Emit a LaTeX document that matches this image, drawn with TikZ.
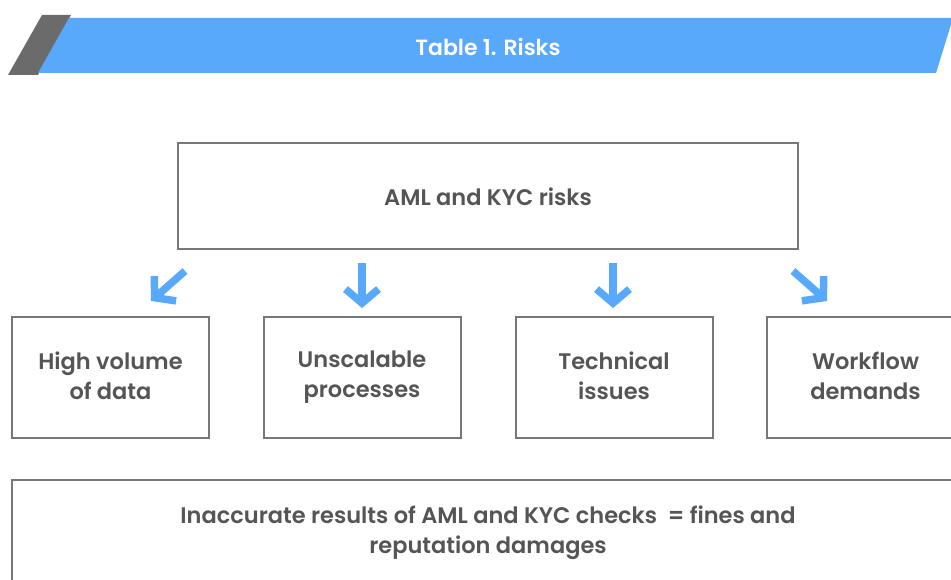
\documentclass[tikz,border=0pt]{standalone}
\usepackage{fontspec}
\setmainfont{Poppins}[BoldFont={Poppins SemiBold}]
\usetikzlibrary{positioning,arrows.meta}
\definecolor{riskblue}{HTML}{58A9FB}
\definecolor{bargray}{HTML}{6B6B6B}
\definecolor{linegray}{HTML}{777777}
\definecolor{txtgray}{HTML}{555555}
\newcommand{\boxstrut}{\rule[-4pt]{0pt}{28pt}}

\begin{document}
\begin{tikzpicture}[x=1pt,y=-1pt,
        boxsty/.style={
            draw=linegray, line width=2pt, rectangle,
            minimum height=121pt,
            minimum width=197pt,
            align=center, text=txtgray,
            font=\fontsize{22.5}{30}\selectfont\bfseries,
            execute at begin node=\boxstrut,
            execute at end node=\boxstrut,
        },
        topsty/.style={boxsty, minimum width=620pt, minimum height=106pt},
        endsty/.style={boxsty, minimum width=952pt, minimum height=106pt},
        arrowsty/.style={draw=riskblue, line width=7.5pt,
            -{Straight Barb[length=14pt, width=33pt]}},
    ]
    \useasboundingbox (0,0) rectangle (951,580);

    % title bar
    \fill[bargray] (42,15) -- (71,15) -- (38,75) -- (8,75) -- cycle;
    \fill[riskblue] (69,18) -- (953,18) -- (936,73) -- (38,73) -- cycle;
    \node[text=white, font=\fontsize{22}{24}\selectfont\bfseries] at (488,47) (title) {Table 1. Risks};

    \node[topsty] at (488,196) (top) {AML and KYC risks};

    \node[boxsty] at (110.5,377.5) (r0) {High volume\\of data};
    \node[boxsty] at (362,377.5) (r1) {Unscalable\\processes};
    \node[boxsty] at (614,377.5) (r2) {Technical\\issues};
    \node[boxsty] at (865.5,377.5) (r3) {Workflow\\demands};

    \node[endsty] at (488,533) (res) {Inaccurate results of AML and KYC checks\ \ = fines and\\reputation damages};

    \coordinate (a0s) at (185,271);
    \coordinate (a0e) at (151,301);
    \coordinate (a1s) at (362,263);
    \coordinate (a1e) at (362,308);
    \coordinate (a2s) at (613,263);
    \coordinate (a2e) at (613,308);
    \coordinate (a3s) at (793,271);
    \coordinate (a3e) at (827,301);

    \draw[arrowsty] (a0s) -- (a0e);
    \draw[arrowsty] (a1s) -- (a1e);
    \draw[arrowsty] (a2s) -- (a2e);
    \draw[arrowsty] (a3s) -- (a3e);

\end{tikzpicture}
\end{document}
